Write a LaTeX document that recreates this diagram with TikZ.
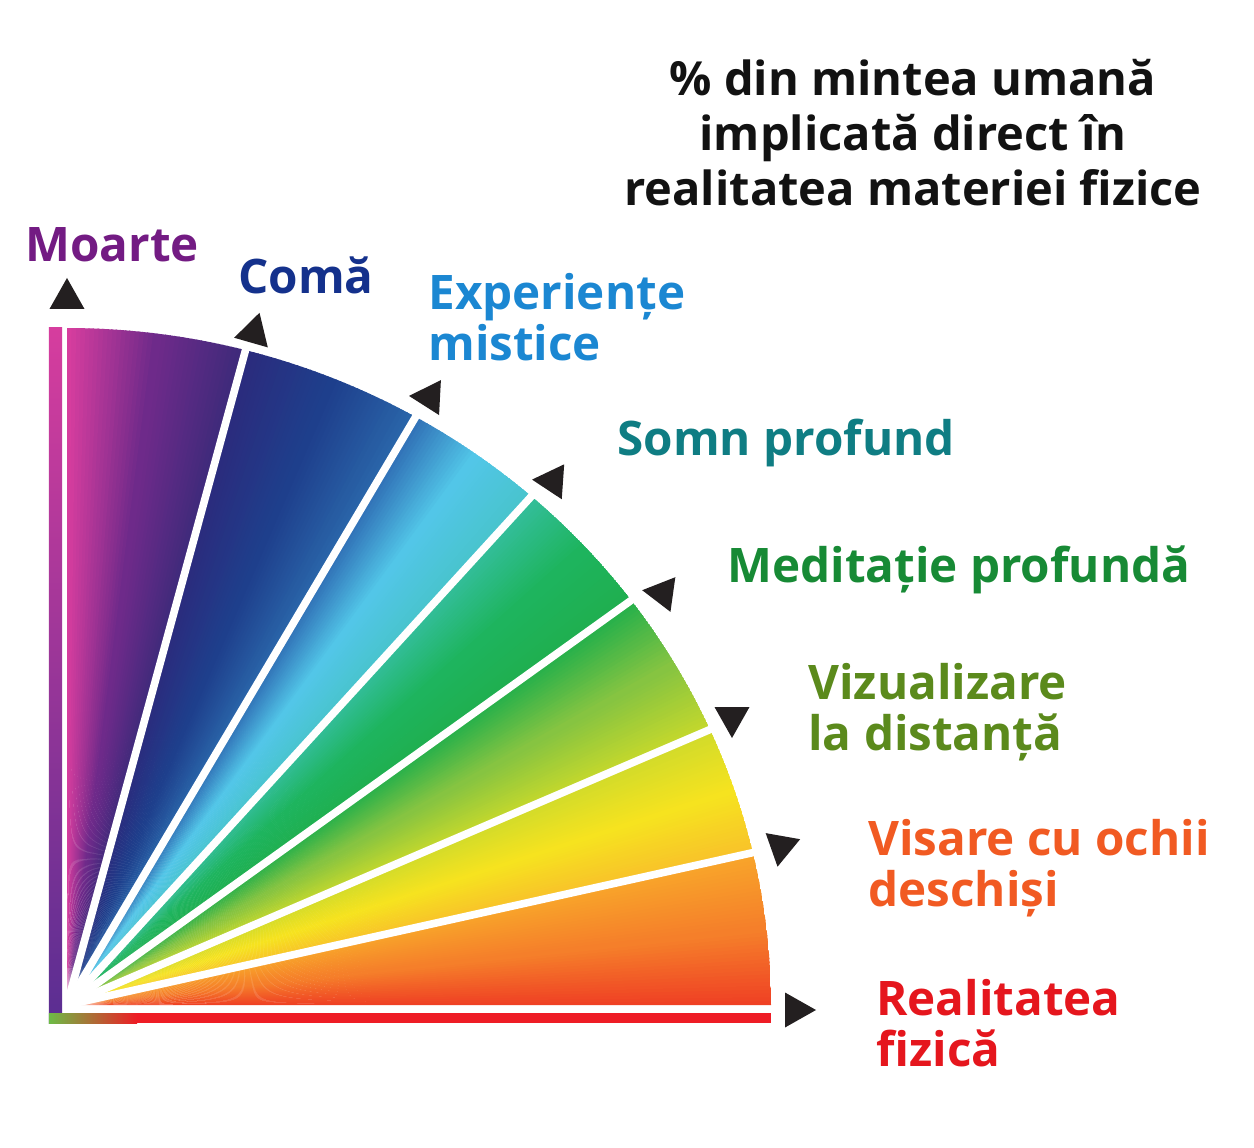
\documentclass[tikz,border=0pt]{standalone}
\usepackage{fontspec}
\setmainfont{Open Sans}
\usetikzlibrary{fadings}
% colours round the fan, from the floor up
\definecolor{redA}{HTML}{EF4124}
\definecolor{orA}{HTML}{F57F2A}
\definecolor{orB}{HTML}{F8A52A}
\definecolor{yeA}{HTML}{F8C22A}
\definecolor{yeB}{HTML}{F6E31F}
\definecolor{yeC}{HTML}{D2DB2A}
\definecolor{lmA}{HTML}{C5D82C}
\definecolor{lmB}{HTML}{86C441}
\definecolor{grA}{HTML}{25B04B}
\definecolor{grB}{HTML}{1FAF4F}
\definecolor{grC}{HTML}{1EB45E}
\definecolor{tlA}{HTML}{33BE9A}
\definecolor{cyA}{HTML}{48C4CC}
\definecolor{cyB}{HTML}{52C6E8}
\definecolor{blA}{HTML}{3070B6}
\definecolor{nvA}{HTML}{2A66AA}
\definecolor{nvB}{HTML}{1E3F8C}
\definecolor{nvC}{HTML}{2B2B7D}
\definecolor{puA}{HTML}{3D2A7A}
\definecolor{puB}{HTML}{6E2A8A}
\definecolor{puC}{HTML}{D63D9E}
\definecolor{barviolet}{HTML}{B1369C}
\definecolor{barblue}{HTML}{5A2E92}
\definecolor{barred}{HTML}{EE1C25}
\definecolor{bargreen}{HTML}{6DBB45}
\definecolor{barorange}{HTML}{F7A21B}
\definecolor{markfill}{HTML}{231F20}
% label colours
\definecolor{txMoarte}{HTML}{731B83}
\definecolor{txComa}{HTML}{14318C}
\definecolor{txMistic}{HTML}{1B87D2}
\definecolor{txSomn}{HTML}{0F7D83}
\definecolor{txMedit}{HTML}{178A35}
\definecolor{txVizual}{HTML}{5B8A1C}
\definecolor{txVisare}{HTML}{F15A22}
\definecolor{txReal}{HTML}{E5161D}
\tikzfading[name=glow, inner color=transparent!0, outer color=transparent!100]
% one band of the fan: start angle, end angle, colour from, colour to
\newcommand\band[4]{%
  \foreach \k in {0,...,19}{%
    \pgfmathsetmacro\ta{#1+(#2-#1)*\k/20}%
    \pgfmathsetmacro\tb{#1+(#2-#1)*(\k+1.3)/20}%
    \pgfmathtruncatemacro\mix{100-100*\k/19}%
    \fill[#3!\mix!#4] (0,0) -- (\ta:704 and 677)
      arc[start angle=\ta, end angle=\tb, x radius=704, y radius=677] -- cycle;
  }}
\newcommand\marker[3]{\fill[markfill, shift={(#1,#2)}, rotate=#3] (20,0) -- (-11,17.5) -- (-11,-17.5) -- cycle;}
\tikzset{
  gap/.style={white, line width=3.8pt},
  lbl/.style={anchor=west, inner sep=0pt, align=left,
    font=\fontsize{23.8}{25.5}\selectfont\bfseries},
}

\begin{document}
\begin{tikzpicture}[x=0.5pt, y=0.5pt]
  \fill[white] (-67,-142) rectangle (1187,1005);
  \useasboundingbox (-67,-142) rectangle (1187,1005);

  % the fan
  \begin{scope}
    \clip (0,0) -- (0:704 and 677) arc[start angle=0, end angle=90, x radius=704, y radius=677] -- cycle;
    \band{0}{6.5}{redA}{orA}
    \band{6.5}{13}{orA}{orB}
    \band{13}{18.5}{yeA}{yeB}
    \band{18.5}{24}{yeB}{yeC}
    \band{24}{30.3}{lmA}{lmB}
    \band{30.3}{36.7}{lmB}{grA}
    \band{36.7}{42.7}{grB}{grC}
    \band{42.7}{48.7}{grC}{tlA}
    \band{48.7}{54.5}{cyA}{cyB}
    \band{54.5}{60.3}{cyB}{blA}
    \band{60.3}{67.8}{nvA}{nvB}
    \band{67.8}{75.3}{nvB}{nvC}
    \band{75.3}{82.6}{puA}{puB}
    \band{82.6}{90}{puB}{puC}
  \end{scope}
  \foreach \t in {13,24,36.7,48.7,60.3,75.3}
    \draw[gap] (0,0) -- (\t:716 and 689);
  \fill[white, path fading=glow] (0,0) circle (42);

  % the two axes
  \shade[top color=puC, middle color=barviolet, bottom color=barblue] (-18,-18) rectangle (-5,677);
  \fill[barred] (-18,-18) rectangle (704,-8);
  \shade[left color=bargreen, middle color=barorange, right color=barred] (-18,-18) rectangle (70,-8);

  % markers
  \marker{0}{707}{90}
  \marker{187}{673}{74}
  \marker{362}{608}{177}
  \marker{485}{524}{176}
  \marker{595}{412}{172}
  \marker{665}{287}{-90}
  \marker{714}{158}{-100}
  \marker{729}{-5}{0}

  % labels
  \node[lbl, txMoarte] (moarte) at (-42,760) {Moarte};
  \node[lbl, txComa] (coma) at (171,730) {Comă};
  \node[lbl, txMistic] (mistic) at (361,688) {Experiențe\\mistice};
  \node[lbl, txSomn] (somn) at (550,562) {Somn profund};
  \node[lbl, txMedit] (medit) at (660,435) {Meditație profundă};
  \node[lbl, txVizual] (vizual) at (741,293) {Vizualizare\\la distanță};
  \node[lbl, txVisare] (visare) at (801,137) {Visare cu ochii\\deschiși};
  \node[lbl, txReal] (real) at (809,-18) {Realitatea\\fizică};
  \node[font=\fontsize{23.5}{27.5}\selectfont\bfseries, align=center, text=black!93] (titlu) at (846,872)
    {\% din mintea umană\\implicată direct în\\realitatea materiei fizice};
\end{tikzpicture}
\end{document}
